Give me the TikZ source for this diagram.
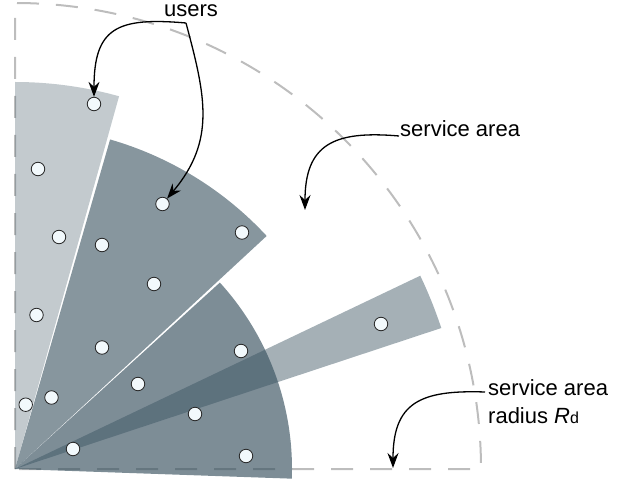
\documentclass[tikz,border=0pt]{standalone}
\usepackage{fontspec}
\setmainfont{Liberation Sans}
\usetikzlibrary{arrows.meta}

\definecolor{slate}{HTML}{37505E}
\definecolor{userfill}{HTML}{F2F9FC}
\definecolor{dashgray}{HTML}{BDBDBD}

\begin{document}
\begin{tikzpicture}[x=1pt,y=1pt,
    user/.style={circle,draw=black!85,line width=0.8pt,fill=userfill,minimum size=13.5pt,inner sep=0pt},
    lbl/.style={font=\fontsize{22}{26}\selectfont,inner sep=0pt},
    pointer/.style={line width=1.3pt,-{Stealth[length=15pt,width=11pt,inset=5pt]}}]

    \useasboundingbox (-15,-16) rectangle (613,469);

    %service area
    \draw[dashgray,line width=2pt,dash pattern=on 22pt off 17pt] (0,0) -- (0,466) arc (90:0:466) -- cycle;

    %beams
    \fill[slate,opacity=0.45] (0,0) -- (18.3:449) arc (18.3:25.5:449) -- cycle;
    \fill[slate,opacity=0.3] (0,0) -- (74.4:387) arc (74.4:90:387) -- cycle;
    \fill[slate,opacity=0.6] (0,0) -- (42.8:343) arc (42.8:73.9:343) -- cycle;
    \fill[slate,opacity=0.65] (0,0) -- (-2:277) arc (-2:42.3:277) -- cycle;

    %users
    \foreach \x/\y [count=\i] in {79/365, 23/300, 147.5/265, 44/232, 227/236.5, 87/224,
        139/185, 21.5/154, 87/121.5, 226/118, 123/85, 36.5/71.5, 10.7/64.3, 180/55,
        58/20, 231/13, 366/145}
      \node[user] (u\i) at (\x,\y) {};

    %labels
    \node[lbl,anchor=base] (users) at (176,452) {users};
    \node[lbl,anchor=base west] (area) at (385,332) {service area};
    \node[lbl,anchor=base west] (rdtop) at (473,74) {service area};
    \node[lbl,anchor=base west] (rdbot) at (473,46) {radius \textit{R}{\fontsize{16}{16}\selectfont d}};

    \coordinate (areatip) at (290,259);
    \coordinate (rdtip) at (378,1);

    %pointers
    \draw[pointer] ([shift={(-5,-6)}]users.base) to[out=175,in=90,looseness=1.5] (u1);
    \draw[pointer] ([shift={(-5,-6)}]users.base) to[out=-75,in=50,looseness=1.1] (u3);
    \draw[pointer] ([shift={(-1,1)}]area.base west) to[out=175,in=90,looseness=1.4] (areatip);
    \draw[pointer] ([shift={(-3,3)}]rdtop.base west) to[out=178,in=90,looseness=1.4] (rdtip);

  \end{tikzpicture}
\end{document}
